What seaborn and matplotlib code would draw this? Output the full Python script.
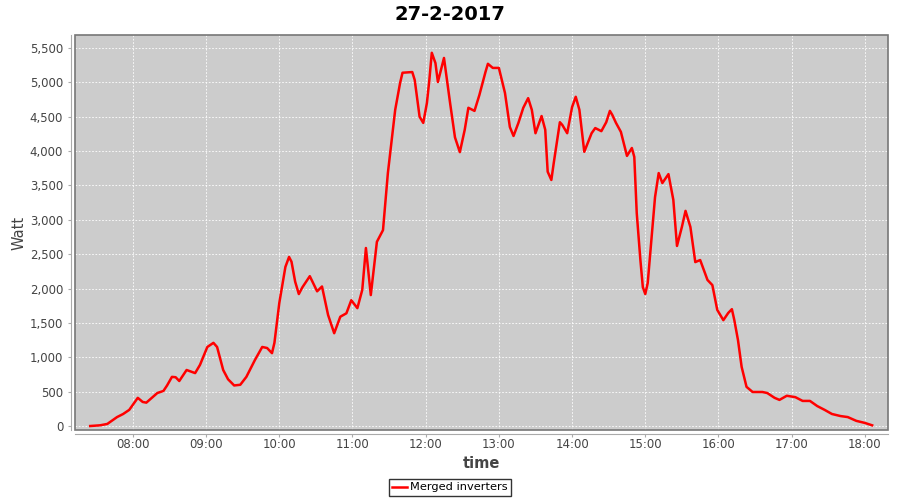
import pandas as pd
import matplotlib.pyplot as plt
import matplotlib.dates as mdates
from matplotlib.patches import Rectangle
from matplotlib.ticker import FuncFormatter
import seaborn as sns

# readings of the merged inverters, 27-2-2017
times = [
    "07:25", "07:33", "07:39", "07:47", "07:52", "07:57", "08:04", "08:08", "08:11", "08:20",
    "08:25", "08:28", "08:32", "08:35", "08:38", "08:44", "08:51", "08:55", "09:01", "09:06",
    "09:09", "09:14", "09:18", "09:23", "09:28", "09:33", "09:40", "09:46", "09:50", "09:54",
    "09:56", "10:00", "10:05", "10:08", "10:10", "10:13", "10:16", "10:19", "10:25", "10:31",
    "10:35", "10:40", "10:45", "10:50", "10:55", "10:59", "11:04", "11:08", "11:11", "11:15",
    "11:20", "11:25", "11:29", "11:35", "11:39", "11:41", "11:49", "11:51", "11:55", "11:58",
    "12:01", "12:03", "12:05", "12:08", "12:10", "12:15", "12:20", "12:24", "12:28", "12:32",
    "12:35", "12:40", "12:44", "12:49", "12:51", "12:55", "13:00", "13:05", "13:09", "13:12",
    "13:16", "13:20", "13:24", "13:27", "13:30", "13:35", "13:38", "13:40", "13:43", "13:45",
    "13:50", "13:52", "13:56", "14:00", "14:03", "14:06", "14:10", "14:16", "14:19", "14:24",
    "14:28", "14:31", "14:33", "14:36", "14:40", "14:45", "14:49", "14:51", "14:53", "14:56",
    "14:58", "15:00", "15:02", "15:05", "15:08", "15:11", "15:14", "15:19", "15:23", "15:26",
    "15:30", "15:33", "15:37", "15:41", "15:45", "15:48", "15:51", "15:55", "15:59", "16:04",
    "16:08", "16:11", "16:13", "16:16", "16:19", "16:23", "16:28", "16:36", "16:40", "16:46",
    "16:50", "16:56", "17:03", "17:09", "17:15", "17:21", "17:27", "17:33", "17:40", "17:46",
    "17:53", "18:00", "18:06",
]
watts = [
    0, 10, 30, 130, 175, 235, 410, 350, 340, 480,
    510, 590, 715, 710, 655, 815, 770, 890, 1150, 1210,
    1150, 815, 680, 590, 600, 715, 960, 1150, 1135, 1060,
    1210, 1790, 2315, 2460, 2390, 2100, 1920, 2020, 2180, 1960,
    2030, 1615, 1350, 1590, 1640, 1830, 1715, 1980, 2590, 1905,
    2680, 2850, 3680, 4600, 4990, 5140, 5150, 5035, 4500, 4410,
    4700, 5035, 5430, 5280, 5005, 5355, 4700, 4200, 3985, 4310,
    4630, 4585, 4815, 5150, 5270, 5210, 5210, 4845, 4350, 4220,
    4410, 4630, 4770, 4600, 4260, 4510, 4310, 3700, 3580, 3830,
    4420, 4380, 4260, 4640, 4790, 4600, 3990, 4260, 4335, 4290,
    4420, 4585, 4525, 4410, 4280, 3930, 4045, 3915, 3100, 2415,
    2020, 1920, 2080, 2705, 3330, 3680, 3535, 3665, 3290, 2620,
    2895, 3130, 2895, 2385, 2415, 2270, 2125, 2050, 1690, 1540,
    1645, 1700, 1540, 1250, 860, 570, 495, 495, 480, 410,
    380, 440, 420, 365, 365, 290, 235, 175, 145, 130,
    75, 45, 10,
]
series_name = "Merged inverters"
day = "2017-02-27"

df = pd.DataFrame({
    "time": pd.to_datetime([day + " " + t for t in times]),
    "Watt": watts,
    "series": series_name,
})

fig = plt.figure(figsize=(9, 5), dpi=100)
ax = fig.add_axes([0.0833, 0.14, 0.9034, 0.79])
ax.set_facecolor("#cccccc")

sns.lineplot(data=df, x="time", y="Watt", hue="series", palette=["#ff0000"],
             linewidth=1.8, ax=ax, legend=False)

ax.set_xlim(pd.Timestamp(day + " 07:12:30"), pd.Timestamp(day + " 18:19:00"))
ax.set_ylim(-58, 5689)
ax.set_yticks(range(0, 5501, 500))
ax.yaxis.set_major_formatter(FuncFormatter(lambda v, p: f"{int(v):,}"))
ax.xaxis.set_major_locator(mdates.HourLocator())
ax.xaxis.set_major_formatter(mdates.DateFormatter("%H:%M"))

ax.grid(True, color="white", linestyle=(0, (2, 2)), linewidth=0.6)
ax.set_axisbelow(True)

for side in ["top", "right"]:
    ax.spines[side].set_visible(False)
for side in ["left", "bottom"]:
    ax.spines[side].set_position(("outward", 3))
    ax.spines[side].set_color("#aaaaaa")
ax.add_patch(Rectangle((0, 0), 1, 1, transform=ax.transAxes, fill=False,
                       edgecolor="#777777", linewidth=1.2, clip_on=False, zorder=5))

ax.tick_params(axis="both", colors="#aaaaaa", length=2, labelsize=8.5,
               labelcolor="#444444")
ax.tick_params(axis="x", pad=1)
ax.set_xlabel("time", fontsize=10.5, fontweight="bold", color="#444444", labelpad=3)
ax.set_ylabel("Watt", fontsize=10.5, color="#444444", labelpad=2)

fig.suptitle("27-2-2017", x=0.5, y=0.99, fontsize=14, fontweight="bold")

handle = plt.Line2D([], [], color="#ff0000", linewidth=1.8)
leg = fig.legend([handle], [series_name], loc="center", bbox_to_anchor=(0.5, 0.025),
                 fontsize=8.2, frameon=True, fancybox=False, handlelength=1.3,
                 handletextpad=0.3, borderpad=0.3, borderaxespad=0)
leg.get_frame().set_edgecolor("black")
leg.get_frame().set_linewidth(1.0)

fig.savefig("out.png", dpi=100)
